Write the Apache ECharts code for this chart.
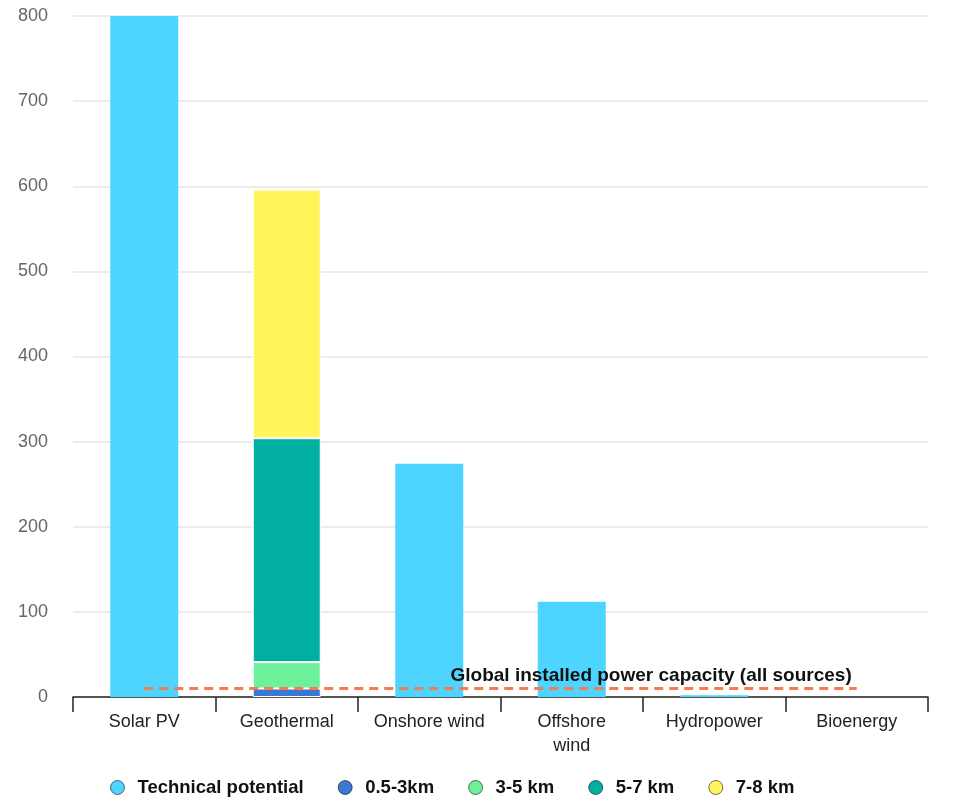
<!DOCTYPE html>
<html>
<head>
<meta charset="utf-8">
<script src="https://cdn.jsdelivr.net/npm/echarts@6/dist/echarts.min.js"></script>
<style>html,body{margin:0;padding:0;background:#fff}#c{width:960px;height:812px}</style>
</head>
<body>
<div id="c"></div>
<script>
const categories = ['Solar PV', 'Geothermal', 'Onshore wind', 'Offshore\nwind', 'Hydropower', 'Bioenergy'];
const technicalPotential = [800, '-', 274, 112, 2, 0];
const depth05to3 = ['-', 10, '-', '-', '-', '-'];
const depth3to5 = ['-', 31, '-', '-', '-', '-'];
const depth5to7 = ['-', 263, '-', '-', '-', '-'];
const depth7to8 = ['-', 292, '-', '-', '-', '-'];
const globalCapacity = 10;
const globalCapacityLabel = 'Global installed power capacity (all sources)';
const yTicks = [0, 800, 100];

const font = '"Liberation Sans", Arial, sans-serif';
const chart = echarts.init(document.getElementById('c'));
function barSeries(name, data, color, extra) {
  return Object.assign({
    name: name, type: 'bar', stack: 'total', data: data, barWidth: 68,
    itemStyle: { color: color, borderColor: '#fff', borderWidth: 1 },
    emphasis: { disabled: true }
  }, extra || {});
}
chart.setOption({
  animation: false,
  textStyle: { fontFamily: font },
  grid: { left: 73, right: 32, top: 16, bottom: 115 },
  legend: {
    bottom: 10, left: 105, icon: 'circle', itemWidth: 14, itemHeight: 14, itemGap: 34,
    itemStyle: { borderColor: 'rgba(0,0,0,0.55)', borderWidth: 1 },
    textStyle: { fontSize: 18.5, fontWeight: 'bold', color: '#111', fontFamily: font, padding: [0, 0, 0, 8] },
    data: ['Technical potential', '0.5-3km', '3-5 km', '5-7 km', '7-8 km']
  },
  xAxis: {
    type: 'category', data: categories,
    axisLine: { lineStyle: { color: '#222', width: 1.5 } },
    axisTick: { show: true, interval: 0, length: 15, lineStyle: { color: '#222', width: 1.5 } },
    axisLabel: { interval: 0, fontSize: 18, color: '#222', margin: 13, lineHeight: 24, fontFamily: font }
  },
  yAxis: {
    type: 'value', min: yTicks[0], max: yTicks[1], interval: yTicks[2],
    axisLine: { show: false }, axisTick: { show: false },
    axisLabel: { fontSize: 18, color: '#666', margin: 25, fontFamily: font },
    splitLine: { lineStyle: { color: '#e6e6e6', width: 1.5 } }
  },
  series: [
    barSeries('Technical potential', technicalPotential, '#4DD4FF', {
      itemStyle: { color: '#4DD4FF', borderWidth: 0 },
      markLine: {
        silent: true, symbol: 'none',
        lineStyle: { type: [9, 6], color: '#F97A4E', width: 3 },
        label: { show: true, position: 'insideEndTop', formatter: globalCapacityLabel,
          fontSize: 19, fontWeight: 'bold', color: '#111', distance: [5, 3], fontFamily: font },
        data: [[{ coord: [categories[0], globalCapacity] }, { coord: [categories[5], globalCapacity] }]]
      }
    }),
    barSeries('0.5-3km', depth05to3, '#3A78D2'),
    barSeries('3-5 km', depth3to5, '#6CF09A'),
    barSeries('5-7 km', depth5to7, '#00AFA0'),
    barSeries('7-8 km', depth7to8, '#FFF45A')
  ]
});
</script>
</body>
</html>
